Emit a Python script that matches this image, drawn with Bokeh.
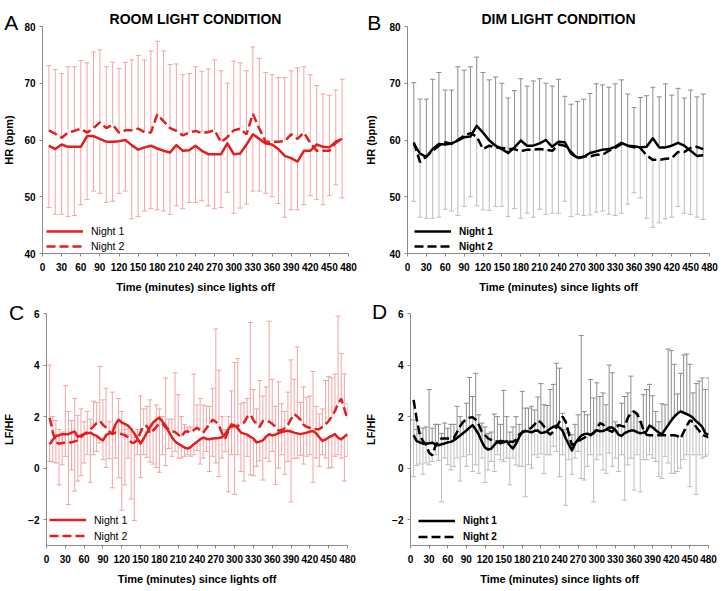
from bokeh.plotting import figure
from bokeh.models import Range1d, Label, Legend, LegendItem, FixedTicker
from bokeh.layouts import column, row
from bokeh.embed import file_html
from bokeh.resources import INLINE

# ---------------- data ----------------
t_hr = list(range(10, 480, 10))      # HR sampled every 10 min
t_lf = list(range(5, 485, 5))        # LF/HF sampled every 5 min

# Panel A: room light, HR
a_night1 = [59.0, 58.4, 59.2, 58.8, 58.8, 58.8, 60.7, 60.7, 60.2, 59.7, 59.7, 59.8, 60.0, 59.1, 58.3, 58.7,
            59.0, 58.5, 58.1, 57.8, 59.1, 58.1, 58.2, 59.0, 58.1, 57.5, 57.5, 57.5, 59.4, 57.5, 57.6, 59.2,
            61.0, 60.2, 59.4, 59.2, 58.4, 57.2, 56.8, 56.2, 58.1, 58.1, 59.2, 58.8, 58.7, 59.7, 60.2]
a_night2 = [61.7, 61.1, 60.4, 61.3, 61.6, 62.0, 61.3, 62.1, 63.1, 62.1, 62.7, 61.3, 61.7, 61.7, 62.0, 61.4,
            61.3, 64.5, 63.3, 62.1, 61.6, 60.8, 61.3, 61.6, 61.2, 61.4, 61.7, 59.6, 60.5, 61.7, 62.0, 61.0,
            64.6, 62.0, 59.7, 59.7, 59.7, 59.8, 61.0, 60.2, 61.3, 59.5, 58.1, 58.1, 58.1, 59.5, 60.2]
a_upper = [73.1, 72.4, 71.7, 72.9, 72.9, 74.0, 73.6, 75.5, 75.9, 72.9, 73.7, 72.6, 73.7, 74.1, 74.9, 74.1,
           75.7, 77.4, 75.7, 73.3, 73.4, 71.5, 71.7, 72.9, 72.1, 72.5, 74.1, 72.2, 70.0, 73.9, 73.6, 72.2,
           76.4, 74.4, 71.9, 71.5, 71.0, 71.0, 72.2, 72.7, 72.9, 71.5, 69.6, 68.1, 67.9, 68.8, 70.7]
a_lower = [48.1, 46.9, 46.9, 46.5, 46.7, 48.6, 49.5, 51.0, 50.6, 49.0, 49.2, 50.6, 51.0, 46.1, 46.5, 47.5,
           47.9, 47.7, 47.5, 46.9, 48.4, 47.9, 49.0, 49.0, 49.3, 48.4, 47.9, 48.1, 50.8, 47.1, 48.0, 48.7,
           51.0, 51.0, 50.6, 50.0, 48.8, 46.4, 47.7, 47.7, 48.6, 50.2, 49.5, 48.6, 50.2, 52.1, 49.8]

# Panel B: dim light, HR
b_night1 = [59.3, 57.6, 57.0, 58.4, 59.3, 59.2, 59.4, 59.9, 60.5, 60.6, 62.5, 61.3, 59.9, 59.0, 58.4, 57.7,
            58.7, 59.9, 59.0, 59.0, 59.4, 60.0, 58.8, 59.7, 59.6, 57.6, 56.9, 57.0, 57.7, 58.0, 58.3, 58.4,
            58.8, 59.5, 59.0, 58.9, 58.7, 58.8, 60.3, 58.7, 58.7, 59.0, 59.5, 59.0, 58.1, 57.2, 57.3]
b_night2 = [59.6, 56.1, 57.1, 58.1, 59.0, 59.6, 59.3, 60.0, 60.8, 61.2, 60.6, 58.4, 59.0, 58.7, 58.6, 58.4,
            58.4, 58.0, 58.3, 58.3, 58.4, 58.3, 58.1, 59.2, 59.0, 57.9, 56.7, 57.1, 57.1, 57.4, 57.4, 58.1,
            58.6, 59.3, 59.0, 58.7, 58.6, 57.3, 56.5, 56.5, 56.7, 56.8, 57.9, 57.9, 58.6, 58.8, 58.4]
b_upper = [70.1, 67.2, 67.2, 70.7, 71.9, 68.8, 68.8, 72.9, 72.3, 72.9, 74.6, 71.9, 70.6, 71.1, 70.0, 67.4,
           68.7, 70.8, 69.5, 70.4, 70.8, 70.0, 69.5, 70.7, 67.7, 66.3, 66.8, 67.2, 68.2, 69.9, 69.7, 69.3,
           69.9, 70.6, 68.1, 65.7, 67.5, 67.8, 69.3, 67.6, 69.9, 67.9, 69.1, 67.4, 68.8, 67.6, 68.1]
b_lower = [49.2, 46.4, 46.2, 46.2, 46.4, 47.8, 47.5, 46.7, 48.3, 50.0, 48.4, 47.7, 47.6, 48.3, 48.3, 46.5,
           47.9, 46.2, 47.1, 46.4, 47.8, 46.9, 47.1, 47.1, 49.2, 46.5, 46.9, 46.7, 46.8, 47.3, 47.5, 46.9,
           46.7, 47.1, 48.7, 50.7, 49.8, 46.2, 44.6, 45.4, 46.1, 46.4, 48.3, 47.1, 46.9, 46.4, 46.0]

# Panel C: room light, LF/HF
c_night1 = [0.93, 1.10, 1.25, 1.28, 1.32, 1.32, 1.32, 1.38, 1.42, 1.21, 1.27, 1.32, 1.35, 1.38, 1.30, 1.25,
            1.15, 1.08, 1.28, 1.35, 1.38, 1.70, 1.88, 1.77, 1.72, 1.65, 1.52, 1.35, 1.15, 0.95, 1.15, 1.38,
            1.58, 1.77, 1.88, 1.96, 1.80, 1.65, 1.42, 1.20, 1.04, 0.95, 0.88, 0.80, 0.76, 0.82, 0.93, 1.02,
            1.12, 1.19, 1.14, 1.12, 1.15, 1.16, 1.17, 1.20, 1.32, 1.50, 1.70, 1.66, 1.55, 1.38, 1.34, 1.30,
            1.22, 1.15, 1.00, 1.03, 1.08, 1.22, 1.32, 1.27, 1.30, 1.36, 1.40, 1.43, 1.45, 1.42, 1.38, 1.35,
            1.32, 1.35, 1.38, 1.42, 1.44, 1.35, 1.20, 1.06, 1.12, 1.19, 1.25, 1.32, 1.18, 1.12, 1.22, 1.32]
c_night2 = [1.96, 1.40, 1.00, 0.95, 0.98, 0.99, 0.99, 1.00, 1.04, 1.08, 1.20, 1.32, 1.40, 1.50, 1.62, 1.75,
            1.83, 1.68, 1.57, 1.42, 1.32, 1.38, 1.35, 1.32, 1.28, 1.20, 1.00, 0.99, 1.10, 1.40, 1.64, 1.64,
            1.35, 1.45, 1.60, 1.72, 1.72, 1.58, 1.50, 1.44, 1.40, 1.30, 1.20, 1.40, 1.43, 1.38, 1.48, 1.57,
            1.47, 1.38, 1.55, 1.70, 1.88, 1.80, 1.65, 1.35, 1.15, 1.45, 1.60, 1.64, 1.64, 1.70, 1.77, 1.98,
            2.08, 1.86, 1.70, 1.60, 1.83, 1.84, 1.80, 1.72, 1.60, 1.45, 1.48, 1.55, 1.68, 1.90, 2.10, 2.00,
            1.88, 1.68, 1.60, 1.56, 1.52, 1.51, 1.51, 1.60, 1.70, 1.83, 2.00, 2.22, 2.50, 2.70, 2.30, 1.90]
c_upper = [4.00, 2.00, 1.85, 1.50, 1.40, 3.20, 2.20, 1.85, 2.70, 2.05, 2.30, 1.80, 2.20, 1.90, 2.60, 2.55,
           3.95, 2.65, 3.10, 1.80, 2.95, 1.60, 2.70, 2.20, 1.50, 1.30, 1.40, 1.20, 1.50, 2.80, 2.30, 2.40,
           2.65, 1.50, 2.45, 2.30, 2.00, 3.50, 1.90, 1.90, 3.70, 2.85, 2.00, 1.70, 1.60, 1.60, 3.65, 2.45,
           2.70, 2.45, 2.40, 2.40, 3.10, 5.40, 3.80, 2.00, 1.50, 2.00, 3.00, 4.10, 4.25, 2.50, 2.55, 2.70,
           5.65, 3.05, 2.30, 3.40, 2.80, 3.15, 5.70, 3.45, 2.40, 3.35, 2.50, 2.20, 2.95, 4.20, 3.45, 4.70,
           2.55, 3.15, 2.75, 2.80, 3.75, 2.40, 2.10, 2.30, 3.40, 3.55, 3.50, 3.65, 5.90, 4.45, 3.65, 2.50]
c_lower = [0.26, 0.24, 0.20, -0.65, 0.13, 0.46, -1.41, -0.07, -0.89, -0.50, -0.29, 0.20, 0.52, -0.55, 0.52, 0.65,
           0.98, 0.33, 0.03, 0.37, -0.76, 0.39, -0.37, -1.63, -0.65, 0.39, -1.20, -2.03, 0.52, -0.37, 0.52, 0.42,
           0.24, 0.16, 0.03, -0.16, 0.52, 0.10, 0.76, 0.46, 0.65, 0.39, 0.39, 0.46, 0.52, 0.46, 0.52, 0.68,
           0.16, 0.39, 0.65, -0.13, 0.46, 0.20, -0.33, 0.39, 0.65, -0.92, 0.52, -1.02, 0.52, -0.13, -0.50, 0.46,
           -0.26, -0.29, 0.07, 0.29, -0.46, 0.39, 0.26, 0.65, -0.63, 0.00, 0.52, -0.24, 0.26, -1.31, 0.37, 0.39,
           0.50, 0.16, 0.46, 0.52, -0.55, 0.39, 0.07, 0.52, 0.39, 0.00, 0.03, 0.46, 0.52, 0.39, -0.50, 0.46]

# Panel D: dim light, LF/HF
d_night1 = [1.28, 1.05, 1.00, 0.95, 0.95, 0.97, 0.99, 0.92, 0.89, 0.93, 0.96, 1.00, 1.02, 1.08, 1.17, 1.27,
            1.36, 1.46, 1.57, 1.67, 1.50, 1.30, 1.02, 0.80, 0.72, 0.75, 0.90, 1.02, 0.96, 1.00, 1.05, 0.88,
            0.76, 0.95, 1.20, 1.41, 1.44, 1.42, 1.39, 1.45, 1.46, 1.36, 1.38, 1.43, 1.53, 1.60, 1.65, 1.57,
            1.45, 1.15, 0.92, 0.69, 0.95, 1.12, 1.26, 1.32, 1.34, 1.28, 1.38, 1.47, 1.43, 1.44, 1.50, 1.58,
            1.58, 1.48, 1.30, 1.25, 1.36, 1.42, 1.46, 1.46, 1.40, 1.35, 1.38, 1.43, 1.65, 1.58, 1.47, 1.38,
            1.31, 1.50, 1.67, 1.85, 2.00, 2.12, 2.20, 2.15, 2.10, 2.04, 1.95, 1.82, 1.72, 1.60, 1.35, 1.30]
d_night2 = [2.65, 1.90, 1.30, 1.05, 0.90, 0.60, 0.50, 0.85, 1.05, 1.15, 1.15, 1.15, 1.15, 1.18, 1.40, 1.63,
            1.80, 1.90, 1.96, 1.98, 1.88, 1.68, 1.41, 1.28, 1.16, 1.10, 1.03, 1.03, 1.05, 1.04, 1.02, 1.02,
            1.02, 1.10, 1.30, 1.38, 1.45, 1.50, 1.58, 1.70, 1.85, 1.77, 1.62, 1.42, 1.30, 1.42, 1.58, 1.80,
            2.00, 1.80, 1.35, 0.89, 0.95, 1.05, 1.12, 1.18, 1.27, 1.30, 1.35, 1.52, 1.75, 1.70, 1.52, 1.47,
            1.41, 1.55, 1.67, 1.64, 1.61, 1.95, 2.15, 2.20, 2.10, 1.85, 1.50, 1.30, 1.28, 1.28, 1.28, 1.28,
            1.28, 1.28, 1.28, 1.28, 1.28, 1.25, 1.15, 1.40, 1.65, 1.85, 1.80, 1.60, 1.45, 1.28, 1.25, 1.20]
d_upper = [1.87, 1.50, 1.35, 1.55, 1.60, 3.05, 1.55, 1.70, 1.70, 1.35, 1.75, 1.55, 1.70, 1.70, 2.40, 2.00,
           1.80, 2.52, 3.52, 2.78, 3.68, 2.07, 1.75, 1.60, 1.35, 1.40, 2.10, 2.00, 1.70, 3.02, 2.00, 1.40,
           1.60, 2.00, 1.70, 2.98, 2.33, 2.33, 2.40, 2.26, 2.76, 3.28, 2.46, 2.43, 3.05, 3.25, 4.07, 3.88,
           2.13, 1.50, 1.37, 1.30, 1.70, 2.07, 5.15, 2.20, 2.07, 3.44, 2.72, 3.31, 2.78, 2.92, 2.46, 4.00,
           3.70, 1.80, 1.70, 2.52, 2.78, 2.92, 3.57, 2.20, 2.10, 1.80, 2.85, 3.05, 3.25, 2.81, 2.20, 1.80,
           2.50, 2.46, 4.62, 4.56, 4.03, 2.88, 3.68, 4.39, 4.43, 4.03, 2.92, 3.28, 3.38, 3.50, 3.05, 3.50]
d_lower = [-0.33, 0.10, 0.16, -0.24, 0.20, 0.13, 0.26, 0.52, 0.30, -1.31, 0.39, 0.13, -0.07, 0.07, 0.40, -0.50,
           0.46, 0.07, 0.52, -0.13, 0.13, -0.20, 0.39, -0.56, -0.07, 0.26, -0.13, 0.52, 0.33, 0.26, 0.39, -0.65,
           0.39, 0.13, 0.07, 0.07, -1.11, 0.13, 0.00, 0.52, 0.42, 0.55, -0.20, 0.52, 0.52, 0.85, 0.65, -0.33,
           0.52, -1.44, 0.33, -0.24, 0.39, 0.65, -0.40, -0.46, 0.07, 0.52, -1.31, 0.33, 0.52, -0.07, -0.20, 0.59,
           0.07, 0.39, -0.13, 0.52, -1.24, 0.13, 0.39, -0.85, 0.52, -0.92, 0.33, 0.33, 0.52, 0.39, 0.26, -0.33,
           -0.40, 0.46, 0.20, -0.20, -0.20, -0.13, 0.00, 0.33, 0.52, -0.72, 0.52, -1.02, 0.52, 0.39, 0.46, 0.52]

x_ticks = list(range(0, 481, 30))
hr_ticks = [40, 50, 60, 70, 80]
lf_ticks = [-2, 0, 2, 4, 6]

FONT = "Liberation Sans"
RED = "#e21e1e"
PINK = "#f2a4a4"


def panel(t, n1, n2, up, up_base, lo, lo_base, yr, yticks, ylabel, line_color,
          up_color, lo_color, title, title_dx, letter, letter_x, letter_dy,
          w, h, bl, br, bt, bb, ylab_standoff, leg_loc, leg_bold, leg_h):
    p = figure(width=w, height=h, x_range=Range1d(0, 480), y_range=Range1d(*yr),
               output_backend="svg", toolbar_location=None,
               min_border_left=bl, min_border_right=br, min_border_top=bt, min_border_bottom=bb)
    p.grid.visible = False
    p.outline_line_color = None
    p.background_fill_color = "white"

    p.title.text = title
    p.title.align = "center"
    p.title.offset = title_dx
    p.title.standoff = 0
    p.title.text_font = FONT
    p.title.text_font_style = "bold"
    p.title.text_font_size = "14px"
    p.title.text_color = "black"

    for ax in (p.xaxis[0], p.yaxis[0]):
        ax.axis_line_color = "#8a8a8a"
        ax.major_tick_line_color = "#8a8a8a"
        ax.minor_tick_line_color = None
        ax.major_tick_out = 3
        ax.major_tick_in = 0
        ax.major_label_text_font = FONT
        ax.major_label_text_font_style = "bold"
        ax.major_label_text_font_size = "10px"
        ax.major_label_text_color = "black"
        ax.axis_label_text_font = FONT
        ax.axis_label_text_font_style = "bold"
        ax.axis_label_text_font_size = "11px"
        ax.axis_label_text_color = "black"
    p.xaxis.ticker = FixedTicker(ticks=x_ticks)
    p.yaxis.ticker = FixedTicker(ticks=yticks)
    p.xaxis.axis_label = "Time (minutes) since lights off"
    p.xaxis.major_label_standoff = 6
    p.xaxis.axis_label_standoff = 7
    p.yaxis.axis_label = ylabel
    p.yaxis.major_label_standoff = 4
    p.yaxis.axis_label_standoff = ylab_standoff

    # error bars
    p.segment(x0=t, y0=up_base, x1=t, y1=up, line_color=up_color, line_width=1)
    p.scatter(x=t, y=up, marker="dash", size=5, line_color=up_color, line_width=1)
    p.segment(x0=t, y0=lo_base, x1=t, y1=lo, line_color=lo_color, line_width=1)
    p.scatter(x=t, y=lo, marker="dash", size=5, line_color=lo_color, line_width=1)

    r1 = p.line(t, n1, line_color=line_color, line_width=2.5, line_join="round")
    r2 = p.line(t, n2, line_color=line_color, line_width=2.5, line_dash="9 4")

    legend = Legend(items=[LegendItem(label="Night 1", renderers=[r1]),
                           LegendItem(label="Night 2", renderers=[r2])],
                    location=leg_loc, orientation="vertical",
                    glyph_width=37, glyph_height=leg_h, label_height=leg_h, spacing=1,
                    padding=0, margin=0, label_standoff=8,
                    background_fill_alpha=0, border_line_alpha=0,
                    label_text_font=FONT,
                    label_text_font_style="bold" if leg_bold else "normal",
                    label_text_font_size="10px" if leg_bold else "10.5px",
                    label_text_color="black")
    p.add_layout(legend)

    # panel letter: lives in the (narrow) right side panel so it is not clipped to the frame,
    # but is positioned with data coordinates to the upper-left of the frame
    p.add_layout(Label(x=letter_x, y=yr[1], y_offset=letter_dy, text=letter,
                       text_font=FONT, text_font_size="21px",
                       text_align="left", text_baseline="alphabetic", text_color="black"), "right")
    return p


pA = panel(t_hr, a_night1, a_night2, a_upper, a_night2, a_lower, a_night1, (40, 80), hr_ticks,
           "HR (bpm)", RED, PINK, PINK, "ROOM LIGHT CONDITION", 6, "A", -60, 4,
           362, 295, 41, 13, 26, 39, 6, (4, 0), False, 14)
pB = panel(t_hr, b_night1, b_night2, b_upper, b_night1, b_lower, b_night2, (40, 80), hr_ticks,
           "HR (bpm)", "black", "#8c8c8c", "#bdbdbd", "DIM LIGHT CONDITION", 10, "B", -64, 4,
           361, 295, 43, 7, 26, 39, 9, (7, 0), True, 14)
pC = panel(t_lf, c_night1, c_night2, c_upper, c_night2, c_lower, c_night1, (-3, 6), lf_ticks,
           "LF/HF", RED, PINK, PINK, "", 0, "C", -60, 1,
           362, 295, 41, 13, 17, 45, 10, (3, 2), False, 15)
pD = panel(t_lf, d_night1, d_night2, d_upper, d_night1, d_lower, d_night2, (-3, 6), lf_ticks,
           "LF/HF", "black", "#8c8c8c", "#bdbdbd", "", 0, "D", -62, 2,
           361, 295, 44, 7, 18, 45, 12, (8, 1), True, 15)

layout = column(row(pA, pB), row(pC, pD))
open("out.html", "w").write(file_html(layout, INLINE))
